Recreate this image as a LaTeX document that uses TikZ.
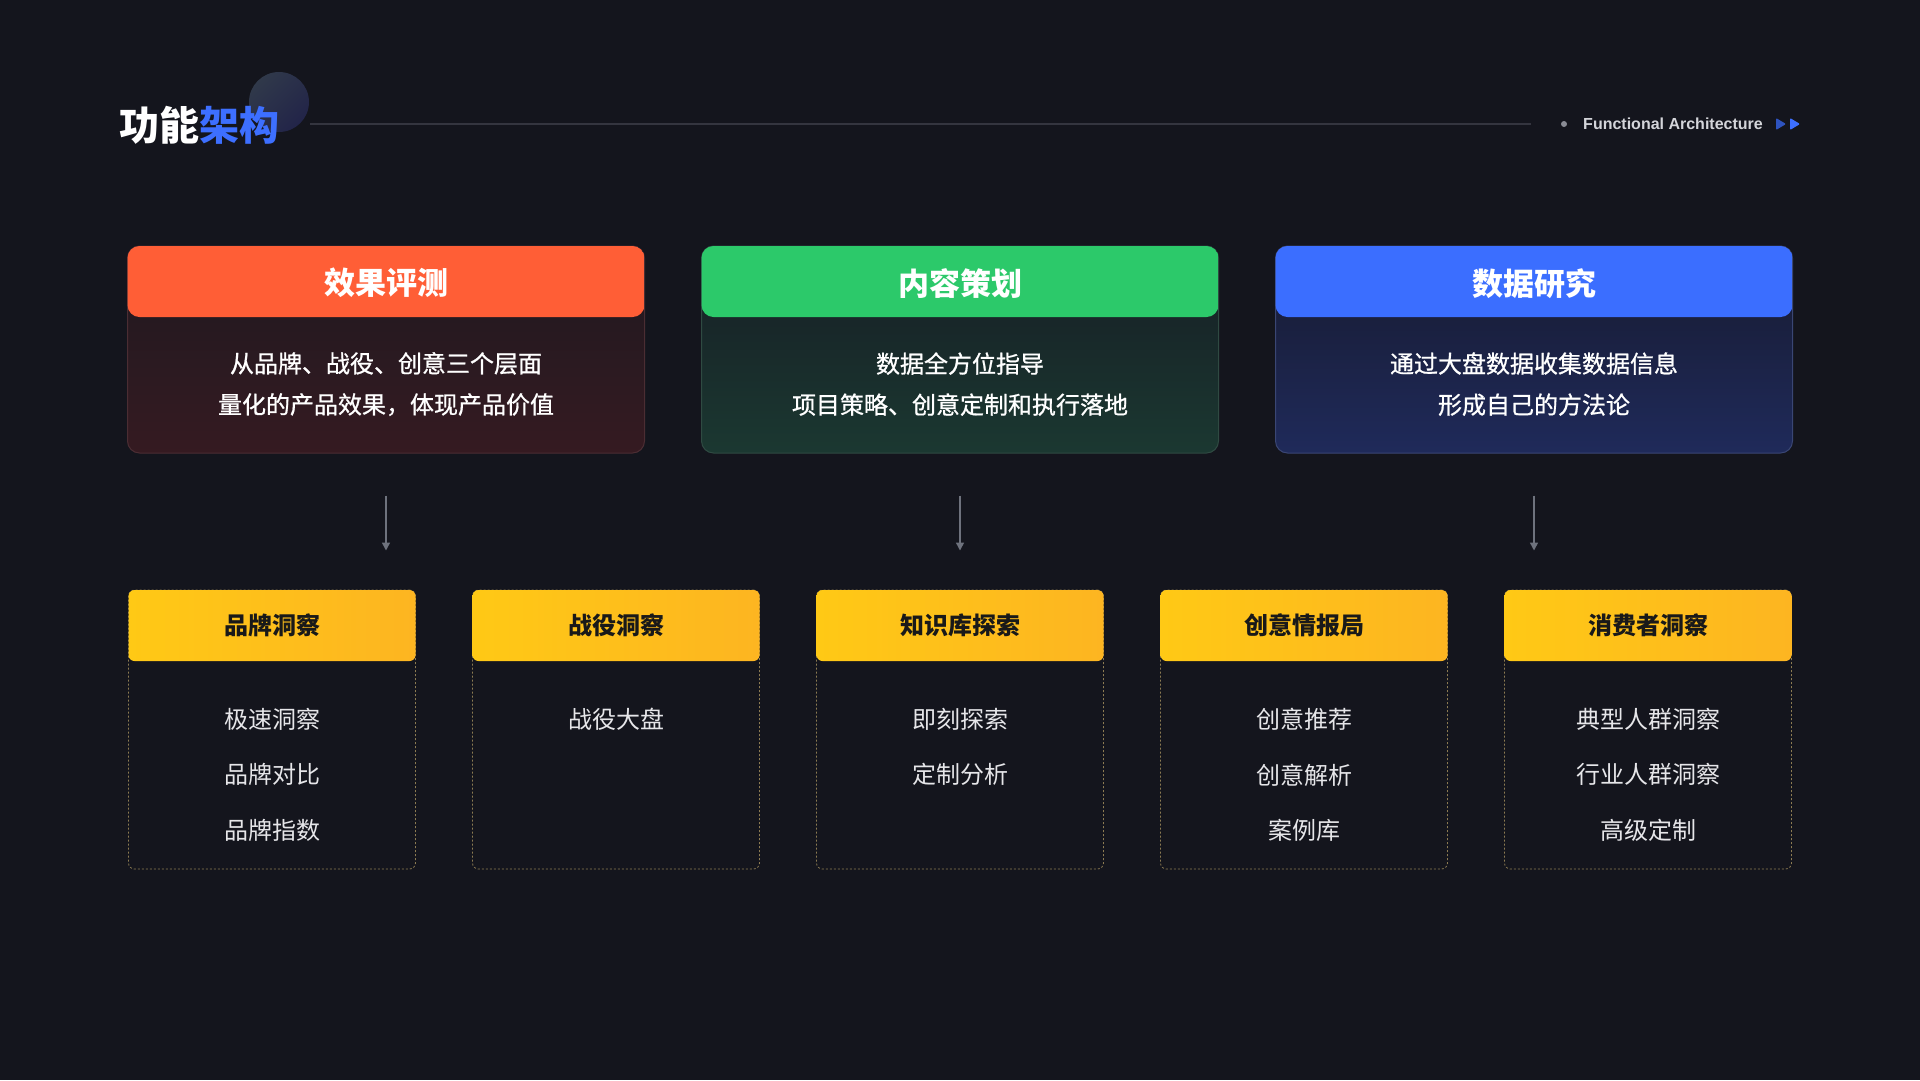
\documentclass[tikz,border=0pt]{standalone}
\usepackage{fontspec}
\setmainfont{Noto Sans CJK SC}
\newfontfamily\cjkmid{Noto Sans CJK SC}[FakeBold=0.8]
\newfontfamily\latinfont{Liberation Sans}
\usetikzlibrary{positioning,arrows.meta}

\definecolor{bg}{HTML}{14151D}
\definecolor{accent}{HTML}{3D6FFF}
\definecolor{rulecol}{HTML}{34353F}
\definecolor{dotcol}{HTML}{8A8C95}
\definecolor{subcol}{HTML}{D4D5DA}
\definecolor{decoA}{HTML}{30394A}
\definecolor{decoB}{HTML}{222449}
\definecolor{evalhead}{HTML}{FF5E36}
\definecolor{evaltop}{HTML}{1E1920}
\definecolor{evalbot}{HTML}{351A21}
\definecolor{evalline}{HTML}{4B2D33}
\definecolor{planhead}{HTML}{2CC96A}
\definecolor{plantop}{HTML}{161D24}
\definecolor{planbot}{HTML}{1B3831}
\definecolor{planline}{HTML}{2F4A42}
\definecolor{datahead}{HTML}{3B6EFF}
\definecolor{datatop}{HTML}{171A2F}
\definecolor{databot}{HTML}{1F2A5A}
\definecolor{dataline}{HTML}{3A4674}
\definecolor{yelA}{HTML}{FFC915}
\definecolor{yelB}{HTML}{FDB521}
\definecolor{dashcol}{HTML}{8C7B52}
\definecolor{arrowcol}{HTML}{6E727D}
\definecolor{itemcol}{HTML}{E6E6E9}

\begin{document}
\begin{tikzpicture}[x=1pt, y=-1pt,
    headfill/.style={postaction={path picture={\path[#1] (path picture bounding box.north west) rectangle ([yshift=-71pt]path picture bounding box.north east);}}},
    topbox/.style={rounded corners=12pt, minimum width=517pt, minimum height=207pt, inner sep=0pt, line width=1pt},
    toptitle/.style={minimum height=71pt, inner sep=0pt, yshift=-2pt, text=white, font=\bfseries\fontsize{31}{31}\selectfont},
    topdesc/.style={minimum height=136pt, inner sep=0pt, yshift=3pt, align=center, text=white, font=\cjkmid\fontsize{24}{41}\selectfont},
    subbox/.style={rounded corners=6pt, minimum width=287pt, minimum height=279pt, inner sep=0pt, draw=dashcol, dash pattern=on 2pt off 2pt, line width=0.8pt, headfill={left color=yelA, right color=yelB}},
    subtitle/.style={minimum height=71pt, inner sep=0pt, text=black!90, font=\bfseries\fontsize{24}{24}\selectfont},
    subitems/.style={inner sep=0pt, align=center, text=itemcol, font=\fontsize{24}{55.5}\selectfont},
    flow/.style={draw=arrowcol, line width=1.5pt, -{Triangle[length=8pt, width=8pt]}}
]
    \path[use as bounding box, fill=bg] (0,0) rectangle (1920,1080);

    % 見出し
    \node[circle, minimum size=60pt, inner sep=0pt, top color=decoA, bottom color=decoB, shading angle=45] (deco) at (279,102) {};
    \node[inner sep=0pt, text=white, font=\bfseries\fontsize{40}{40}\selectfont] (title) at (199,125) {功能\textcolor{accent}{架构}};
    \coordinate (rulestart) at (310,124);
    \coordinate (ruleend) at (1531,124);
    \draw[rulecol, line width=2pt] (rulestart) -- (ruleend);
    \node[circle, fill=dotcol, minimum size=6pt, inner sep=0pt] (dot) at (1564,124) {};
    \node[inner sep=0pt, text=subcol, font=\latinfont\bfseries\fontsize{16}{16}\selectfont] (sub) at (1673,124) {Functional Architecture};
    \fill[accent!75!black, rounded corners=1pt] (1776,118) -- (1776,130) -- (1786,124) -- cycle;
    \fill[accent, rounded corners=1pt] (1790,118) -- (1790,130) -- (1800,124) -- cycle;

    % 上段
    \node[topbox, draw=evalline, top color=evaltop, bottom color=evalbot, headfill={fill=evalhead}] (evalbox) at (386,349.5) {};
    \node[topbox, draw=planline, top color=plantop, bottom color=planbot, headfill={fill=planhead}] (planbox) at (960,349.5) {};
    \node[topbox, draw=dataline, top color=datatop, bottom color=databot, headfill={fill=datahead}] (databox) at (1534,349.5) {};

    \node[toptitle, below=0pt of evalbox.north] (evaltitle) {效果评测};
    \node[toptitle, below=0pt of planbox.north] (plantitle) {内容策划};
    \node[toptitle, below=0pt of databox.north] (datatitle) {数据研究};

    \node[topdesc, below=0pt of evaltitle] (evaldesc) {从品牌、战役、创意三个层面\\量化的产品效果，体现产品价值};
    \node[topdesc, below=0pt of plantitle] (plandesc) {数据全方位指导\\项目策略、创意定制和执行落地};
    \node[topdesc, below=0pt of datatitle] (datadesc) {通过大盘数据收集数据信息\\形成自己的方法论};

    \coordinate[below=42pt of evalbox] (evalout);
    \coordinate[below=97pt of evalbox] (evalin);
    \coordinate[below=42pt of planbox] (planout);
    \coordinate[below=97pt of planbox] (planin);
    \coordinate[below=42pt of databox] (dataout);
    \coordinate[below=97pt of databox] (datain);

    \draw[flow] (evalout) -- (evalin);
    \draw[flow] (planout) -- (planin);
    \draw[flow] (dataout) -- (datain);

    % 下段
    \node[subbox] (brandbox) at (272,729.5) {};
    \node[subbox] (campbox) at (616,729.5) {};
    \node[subbox] (kbbox) at (960,729.5) {};
    \node[subbox] (ideabox) at (1304,729.5) {};
    \node[subbox] (userbox) at (1648,729.5) {};

    \node[subtitle, below=0pt of brandbox.north] (brandtitle) {品牌洞察};
    \node[subtitle, below=0pt of campbox.north] (camptitle) {战役洞察};
    \node[subtitle, below=0pt of kbbox.north] (kbtitle) {知识库探索};
    \node[subtitle, below=0pt of ideabox.north] (ideatitle) {创意情报局};
    \node[subtitle, below=0pt of userbox.north] (usertitle) {消费者洞察};

    \node[subitems, below=47pt of brandtitle] (branditems) {极速洞察\\品牌对比\\品牌指数};
    \node[subitems, below=47pt of camptitle] (campitems) {战役大盘};
    \node[subitems, below=47pt of kbtitle] (kbitems) {即刻探索\\定制分析};
    \node[subitems, below=47pt of ideatitle] (ideaitems) {创意推荐\\创意解析\\案例库};
    \node[subitems, below=47pt of usertitle] (useritems) {典型人群洞察\\行业人群洞察\\高级定制};

\end{tikzpicture}
\end{document}
